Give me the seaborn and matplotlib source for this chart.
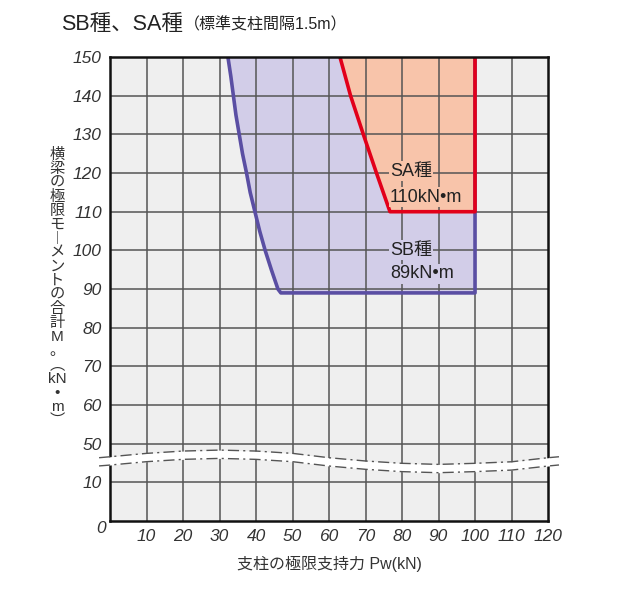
import matplotlib
matplotlib.use("Agg")
import matplotlib.pyplot as plt
import numpy as np
import seaborn as sns

# data
sb_m = [150, 145, 140, 135, 130, 125, 120, 115, 110, 105, 100, 95, 90, 89]
sb_p = [32.3, 33.1, 33.8, 34.5, 35.4, 36.3, 37.4, 38.4, 39.7, 41.0, 42.5, 44.2, 46.0, 46.8]
sa_m = [150, 140, 130, 120, 110]
sa_p = [63.0, 65.9, 69.4, 73.0, 76.7]
p_max = 100
sb_floor = 89
sa_floor = 110

x_ticks = [10, 20, 30, 40, 50, 60, 70, 80, 90, 100, 110, 120]
y_ticks = [10, 50, 60, 70, 80, 90, 100, 110, 120, 130, 140, 150]

# wavy axis break (dash-dot pair)
break_x = [-3, 0, 10, 20, 30, 40, 50, 60, 70, 80, 90, 100, 110, 120, 123]
break_hi = [35.5, 36.5, 40, 42.4, 43.4, 42.4, 40, 35.5, 32.1, 29.7, 28.6, 29.7, 31.3, 35.5, 36.5]
break_lo = [27.0, 27.9, 31.4, 33.8, 34.8, 33.8, 31.4, 26.9, 23.5, 21.1, 20.0, 21.1, 22.7, 26.9, 28.0]

sns.set_theme(style="white")
plt.rcParams["font.family"] = ["Liberation Sans", "Noto Sans CJK JP", "DejaVu Sans"]

fig = plt.figure(figsize=(6.4, 5.9), dpi=100)
ax = fig.add_axes([0.1719, 0.1169, 0.6844, 0.7864])

# broken y scale: 0-10 normal, 10-50 squeezed, 50-150 normal
def fwd(v):
    return np.interp(v, [0, 10, 50, 150], [0, 10, 20, 120])

def inv(p):
    return np.interp(p, [0, 10, 20, 120], [0, 10, 50, 150])

ax.set_yscale("function", functions=(fwd, inv))
ax.set_xlim(0, 120)
ax.set_ylim(0, 150)
ax.set_facecolor("#efefef")

blue = "#5a4ea3"
red = "#e2001a"
sb_fill = "#d2cde8"
sa_fill = "#f8c4aa"

ax.fill_betweenx(sb_m, sb_p, p_max, color=sb_fill, lw=0, zorder=1)
ax.fill_betweenx(sa_m, sa_p, p_max, color=sa_fill, lw=0, zorder=1.1)

# grid on top of fills
for xv in x_ticks[:-1]:
    ax.axvline(xv, color="#555555", lw=1.1, zorder=1.5)
for yv in y_ticks[:-1]:
    ax.axhline(yv, color="#555555", lw=1.1, zorder=1.5)

sns.lineplot(x=sb_p + [p_max, p_max], y=sb_m + [sb_floor, 150], sort=False,
             color=blue, lw=2.6, ax=ax, zorder=2, estimator=None)
sns.lineplot(x=sa_p + [p_max, p_max], y=sa_m + [sa_floor, 150], sort=False,
             color=red, lw=2.6, ax=ax, zorder=2.1, estimator=None)

txt = dict(fontsize=13, color="#222222", ha="left", va="center", zorder=2.2)
ax.text(76.7, 120.5, "SA種", bbox=dict(fc=sa_fill, ec="none", pad=1), **txt)
ax.text(76.7, 113.8, "110kN•m", bbox=dict(fc=sa_fill, ec="none", pad=1), **txt)
ax.text(76.7, 100.0, "SB種", bbox=dict(fc=sb_fill, ec="none", pad=1), **txt)
ax.text(76.7, 93.9, "89kN•m", bbox=dict(fc=sb_fill, ec="none", pad=1), **txt)

# axis break
ax.fill_between(break_x, break_lo, break_hi, color="white", lw=0, zorder=3, clip_on=False)
ax.plot(break_x, break_hi, color="#555555", lw=1.0, ls=(0, (8, 3, 1.5, 3)), zorder=3.1, clip_on=False)
ax.plot(break_x, break_lo, color="#555555", lw=1.0, ls=(0, (8, 3, 1.5, 3)), zorder=3.1, clip_on=False)

for s in ax.spines.values():
    s.set_color("#111111")
    s.set_linewidth(1.8)
    s.set_visible(True)

tick_font = dict(family="Liberation Sans", style="italic", size=12.5, color="#333333")
ax.set_xticks(x_ticks)
ax.set_xticklabels([str(v) for v in x_ticks], fontdict=tick_font)
ax.set_yticks(y_ticks)
ax.set_yticklabels([str(v) for v in y_ticks], fontdict=tick_font)
ax.tick_params(length=0, pad=6)
ax.text(-2.5, -3, "0", ha="center", va="top", fontdict=tick_font)

ax.set_xlabel("支柱の極限支持力 Pw(kN)", fontsize=11.5, color="#333333", labelpad=8)

ylab = ["横", "梁", "の", "極", "限", "モ", "︱", "メ", "ン", "ト", "の", "合", "計",
        "M", "。", "︵", "kN", "•", "m", "︶"]
fig.text(57 / 640, 1 - 288 / 590, "\n".join(ylab), fontsize=11, color="#333333",
         ha="center", va="center", multialignment="center", linespacing=1.0)

t1 = fig.text(61 / 640, 1 - 25 / 590, "SB種、SA種", fontsize=15.5, color="#222222",
              ha="left", va="center")
ax.annotate("（標準支柱間隔1.5m）", xy=(1, 0.5), xycoords=t1, xytext=(1, 0),
            textcoords="offset points", fontsize=11.5, color="#222222",
            ha="left", va="center", annotation_clip=False)

fig.savefig("out.png", dpi=100)
